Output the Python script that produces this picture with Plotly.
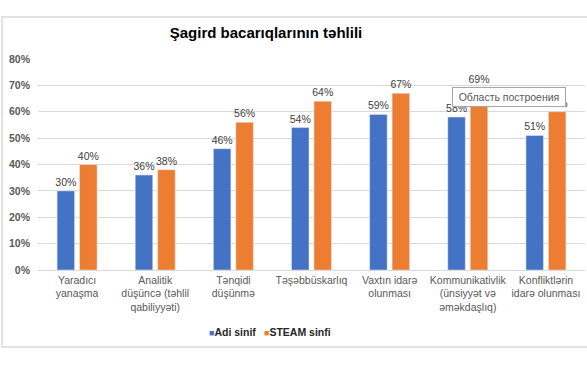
import plotly.graph_objects as go

categories = [
    "Yaradıcı<br>yanaşma",
    "Analitik<br>düşüncə (təhlil<br>qabiliyyəti)",
    "Tənqidi<br>düşünmə",
    "Təşəbbüskarlıq",
    "Vaxtın idarə<br>olunması",
    "Kommunikativlik<br>(ünsiyyət və<br>əməkdaşlıq)",
    "Konfliktlərin<br>idarə olunması",
]
adi_sinif = [0.30, 0.36, 0.46, 0.54, 0.59, 0.58, 0.51]
steam_sinfi = [0.40, 0.38, 0.56, 0.64, 0.67, 0.69, 0.60]
series_names = ["Adi sinif", "STEAM sinfi"]
colors = ["#4472C4", "#ED7D31"]

W, H = 587, 368
L, R, T, B = 38, 2, 59, 98
pw, ph = W - L - R, H - T - B

def px_x(p):
    return (p - L) / pw

def px_y(p):
    return (H - B - p) / ph

legend_ids = ["legend", "legend2"]
legend_left = [169, 224]

fig = go.Figure()
for name, vals, col, lg in zip(series_names, [adi_sinif, steam_sinfi], colors, legend_ids):
    fig.add_trace(go.Bar(
        x=categories, y=vals, name=name, marker_color=col,
        text=[f"{v*100:.0f}%" for v in vals], textposition="outside",
        constraintext="none",
        textfont=dict(size=10.5, color="#404040", family="Liberation Sans"),
        cliponaxis=False, showlegend=False,
    ))
    fig.add_trace(go.Scatter(
        x=[None], y=[None], mode="markers",
        name=f"<span style='color:{col};font-size:9px'>■</span>{name}",
        marker=dict(symbol="square", size=1, color="rgba(0,0,0,0)"),
        showlegend=True, legend=lg,
    ))

legend_common = dict(orientation="h", xanchor="left", y=px_y(332), yanchor="middle",
                     font=dict(size=10.5, color="#262626", weight="bold"),
                     itemwidth=30, bgcolor="rgba(0,0,0,0)")

fig.update_layout(
    width=W, height=H,
    margin=dict(l=L, r=R, t=T, b=B, autoexpand=False),
    paper_bgcolor="white", plot_bgcolor="white",
    barmode="group", bargap=0.425, bargroupgap=0.22,
    font=dict(family="Liberation Sans, Arial", color="#595959"),
    title=dict(text="<b>Şagird bacarıqlarının təhlili</b>", x=266 / W, xanchor="center",
               y=1 - 33 / H, yanchor="middle", yref="container",
               font=dict(size=15, color="#000000", family="Liberation Sans, Arial")),
    xaxis=dict(showgrid=False, showline=True, linecolor="#D9D9D9", ticks="",
               automargin=False, tickfont=dict(size=10.5, color="#595959")),
    yaxis=dict(range=[0, 0.8], dtick=0.1, tickformat=".0%", showgrid=True,
               gridcolor="#D9D9D9", gridwidth=1, zeroline=False, ticks="",
               ticklabelstandoff=7, automargin=False,
               tickfont=dict(size=10.5, color="#595959", weight="bold")),
    legend=dict(x=px_x(legend_left[0]), **legend_common),
    legend2=dict(x=px_x(legend_left[1]), **legend_common),
    shapes=[dict(type="rect", xref="paper", yref="paper",
                 x0=px_x(2), x1=px_x(592), y0=px_y(347), y1=px_y(17),
                 line=dict(color="#D9D9D9", width=1.5), layer="below")],
    annotations=[dict(text="Область построения", xref="paper", yref="paper",
                      x=px_x(509), y=px_y(97), xanchor="center", yanchor="middle",
                      showarrow=False, width=108, height=14,
                      font=dict(size=10.5, color="#595959", family="Liberation Sans, Arial"),
                      bgcolor="white", bordercolor="#A6A6A6", borderwidth=1, borderpad=2)],
)

fig.write_html("out.html", config={"displayModeBar": False},
               post_script="document.body.style.margin='0';")
